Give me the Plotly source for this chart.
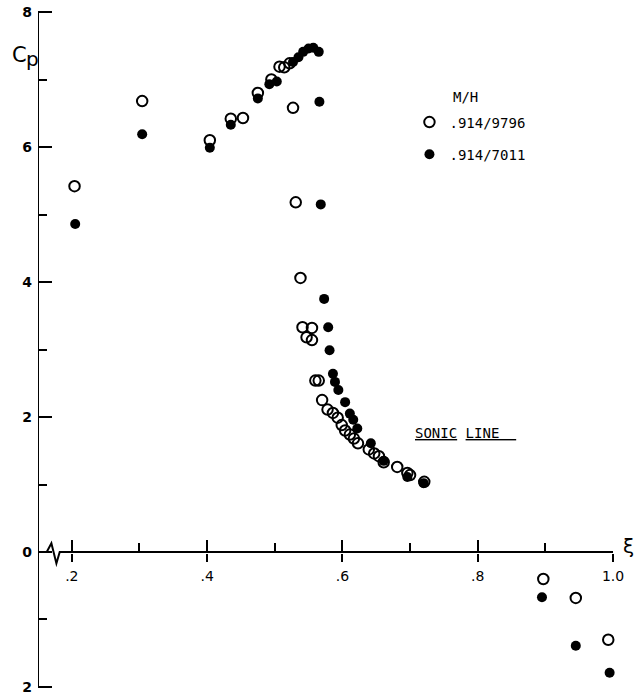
import plotly.graph_objects as go

# ---- data ----
open_label = ".914/9796"
open_x = [0.204, 0.304, 0.404, 0.435, 0.453, 0.475, 0.495, 0.507, 0.514, 0.522,
          0.527, 0.531, 0.538, 0.541, 0.555, 0.547, 0.555, 0.560, 0.565, 0.570,
          0.578, 0.586, 0.593, 0.599, 0.604, 0.611, 0.617, 0.623, 0.639, 0.647,
          0.654, 0.661, 0.681, 0.696, 0.700, 0.721, 0.897, 0.945, 0.993]
open_y = [5.42, 6.68, 6.10, 6.42, 6.43, 6.80, 7.00, 7.19, 7.18, 7.24,
          6.58, 5.18, 4.06, 3.33, 3.32, 3.18, 3.14, 2.54, 2.54, 2.25,
          2.11, 2.06, 1.99, 1.88, 1.80, 1.74, 1.68, 1.61, 1.52, 1.46,
          1.42, 1.33, 1.26, 1.17, 1.14, 1.04, -0.40, -0.68, -1.30]

filled_label = ".914/7011"
filled_x = [0.205, 0.304, 0.404, 0.435, 0.475, 0.492, 0.503, 0.527, 0.535, 0.542,
            0.550, 0.557, 0.565, 0.566, 0.568, 0.573, 0.579, 0.581, 0.586, 0.589,
            0.594, 0.604, 0.611, 0.616, 0.622, 0.642, 0.661, 0.696, 0.720, 0.895,
            0.945, 0.995]
filled_y = [4.86, 6.19, 5.99, 6.33, 6.72, 6.93, 6.97, 7.26, 7.33, 7.41,
            7.46, 7.47, 7.41, 6.67, 5.15, 3.75, 3.33, 2.99, 2.64, 2.52,
            2.40, 2.22, 2.05, 1.96, 1.83, 1.61, 1.35, 1.11, 1.02, -0.67,
            -1.39, -1.79]

x_major = [0.2, 0.4, 0.6, 0.8, 1.0]
x_major_text = [".2", ".4", ".6", ".8", "1.0"]
x_minor = [0.3, 0.5, 0.7, 0.9]
y_major = [-2, 0, 2, 4, 6, 8]
y_major_text = ["2", "0", "2", "4", "6", "8"]
y_minor = [-1, 1, 3, 5, 7]

X_RANGE = [0.15, 1.0]
Y_RANGE = [-2.015, 8.015]

MONO = "DejaVu Sans Mono"
SANS = "DejaVu Sans"

fig = go.Figure()
fig.add_trace(go.Scatter(
    x=filled_x, y=filled_y, mode="markers", name=filled_label,
    marker=dict(symbol="circle", size=10, color="black"),
    cliponaxis=False, legendrank=2, legendgroup="b"))
fig.add_trace(go.Scatter(
    x=open_x, y=open_y, mode="markers", name=open_label,
    marker=dict(symbol="circle-open", size=10.5, color="black", line=dict(width=2, color="black")),
    cliponaxis=False, legendrank=1, legendgroup="a"))

# y-axis line from -2 to 8 and broken x-axis line at y = 0 (break symbol near the origin)
fig.add_shape(type="line", xref="x", yref="y", x0=0.15, x1=0.15, y0=-2, y1=8,
              line=dict(color="black", width=2))
fig.add_shape(type="path", xref="x", yref="y",
              path="M 0.15,0 L 0.1629,0 L 0.1698,0.13 L 0.1772,-0.17 L 0.1821,0 L 1.0,0",
              line=dict(color="black", width=2))

fig.update_layout(
    width=642, height=694,
    margin=dict(l=38, r=29, t=11, b=6),
    paper_bgcolor="white", plot_bgcolor="white",
    showlegend=True,
    legend=dict(x=0.646, y=0.859, xanchor="left", yanchor="top",
                font=dict(family=MONO, size=14, color="black"),
                tracegroupgap=11, bgcolor="rgba(0,0,0,0)"),
    xaxis=dict(range=X_RANGE, anchor="free", position=0.2, showline=False,
               showgrid=False, zeroline=False, automargin=False,
               tickmode="array", tickvals=x_major, ticktext=x_major_text,
               ticks="outside", ticklen=8, tickwidth=2, tickcolor="black",
               tickfont=dict(family=SANS, size=14, color="black"),
               ticklabelstandoff=3, ticklabeloverflow="allow",
               minor=dict(tickmode="array", tickvals=x_minor, ticks="inside",
                          ticklen=10, tickwidth=1.5, tickcolor="black", showgrid=False)),
    xaxis2=dict(range=X_RANGE, anchor="free", position=0.2, overlaying="x",
                showline=False, showgrid=False, zeroline=False, automargin=False,
                tickmode="array", tickvals=x_major, showticklabels=False,
                ticks="inside", ticklen=13, tickwidth=2, tickcolor="black"),
    yaxis=dict(range=Y_RANGE, showline=False,
               showgrid=False, zeroline=False, automargin=False,
               tickmode="array", tickvals=y_major, ticktext=y_major_text,
               ticks="inside", ticklen=14, tickwidth=2, tickcolor="black",
               tickfont=dict(family=SANS, size=14, color="black", weight="bold"),
               ticklabelstandoff=5, ticklabeloverflow="allow",
               minor=dict(tickmode="array", tickvals=y_minor, ticks="inside",
                          ticklen=9, tickwidth=1.5, tickcolor="black", showgrid=False)),
)

# dummy trace on xaxis2 so the overlay axis is drawn
fig.add_trace(go.Scatter(x=[None], y=[None], xaxis="x2", yaxis="y",
                         showlegend=False, hoverinfo="skip"))

fig.add_annotation(text="C", xref="paper", yref="paper", x=-0.033, y=0.935,
                   xanchor="center", yanchor="middle", showarrow=False,
                   font=dict(family=SANS, size=21, color="black"))
fig.add_annotation(text="p", xref="paper", yref="paper", x=-0.0096, y=0.929,
                   xanchor="center", yanchor="middle", showarrow=False,
                   font=dict(family=SANS, size=20, color="black"))
fig.add_annotation(text="ξ", xref="paper", yref="paper", x=1.027, y=0.21,
                   xanchor="center", yanchor="middle", showarrow=False,
                   font=dict(family=SANS, size=20, color="black"))
fig.add_annotation(text="M/H", xref="paper", yref="paper", x=0.744, y=0.873,
                   xanchor="center", yanchor="middle", showarrow=False,
                   font=dict(family=MONO, size=14, color="black"))
fig.add_annotation(text="<u>SONIC</u> <u>LINE&nbsp;&nbsp;</u>", xref="paper", yref="paper",
                   x=0.652, y=0.377, xanchor="left", yanchor="middle", showarrow=False,
                   font=dict(family=MONO, size=14, color="black"))

fig.write_html("out.html",
               config={"displayModeBar": False},
               post_script="document.body.style.margin='0px';"
                           "document.body.style.overflow='hidden';")
